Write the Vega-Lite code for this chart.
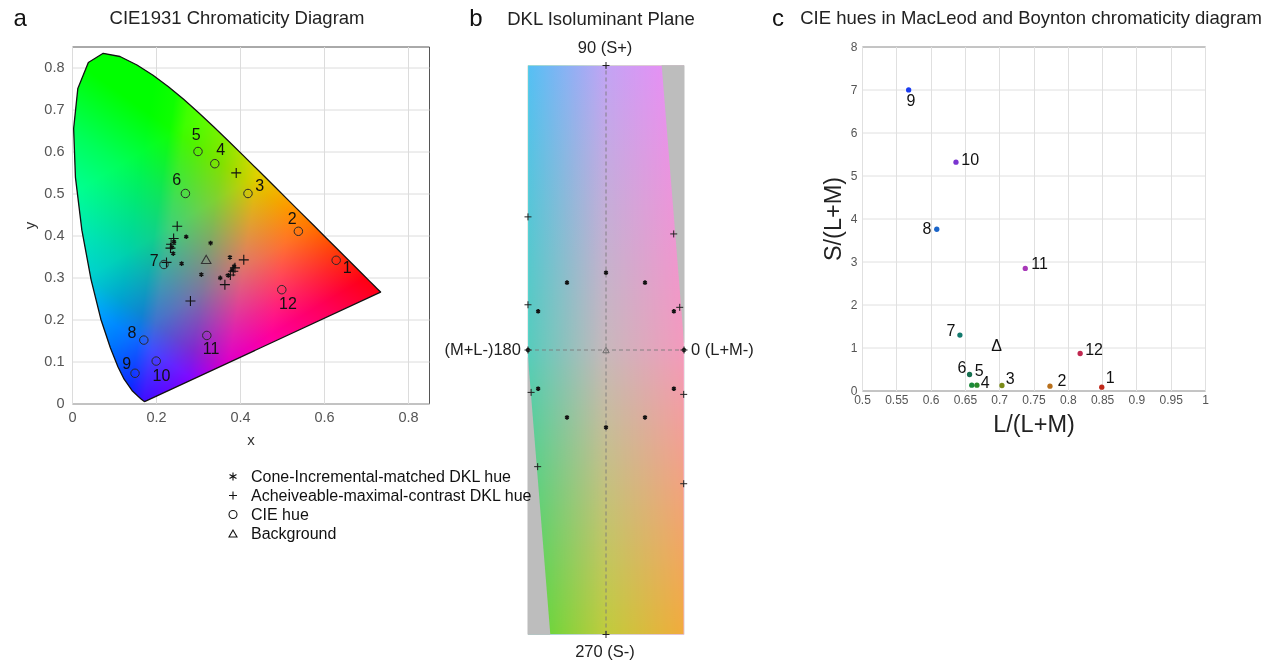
{
"$schema": "https://vega.github.io/schema/vega-lite/v6.json",
"padding": {"left": 13, "top": 6.5, "right": 0, "bottom": 0},
"background": "white",
"config": {"font": "Liberation Sans", "view": {"stroke": "#555", "strokeWidth": 1}, "axis": {"labelFlush": false, "labelBound": false}},
"spacing": 20,
"bounds": "flush",
"datasets": {
"locus": [
{"o":0,"x":0.1741,"y":0.0050},{"o":1,"x":0.1733,"y":0.0048},{"o":2,"x":0.1714,"y":0.0051},{"o":3,"x":0.1644,"y":0.0109},{"o":4,"x":0.1566,"y":0.0177},{"o":5,"x":0.1440,"y":0.0297},{"o":6,"x":0.1241,"y":0.0578},{"o":7,"x":0.1096,"y":0.0868},{"o":8,"x":0.0913,"y":0.1327},{"o":9,"x":0.0687,"y":0.2007},{"o":10,"x":0.0454,"y":0.2950},{"o":11,"x":0.0235,"y":0.4127},{"o":12,"x":0.0082,"y":0.5384},{"o":13,"x":0.0039,"y":0.6548},{"o":14,"x":0.0139,"y":0.7502},{"o":15,"x":0.0389,"y":0.8120},{"o":16,"x":0.0743,"y":0.8338},{"o":17,"x":0.1142,"y":0.8262},{"o":18,"x":0.1547,"y":0.8059},{"o":19,"x":0.1929,"y":0.7816},{"o":20,"x":0.2296,"y":0.7543},{"o":21,"x":0.2658,"y":0.7243},{"o":22,"x":0.3016,"y":0.6923},{"o":23,"x":0.3373,"y":0.6589},{"o":24,"x":0.3731,"y":0.6245},{"o":25,"x":0.4087,"y":0.5896},{"o":26,"x":0.4441,"y":0.5547},{"o":27,"x":0.4788,"y":0.5202},{"o":28,"x":0.5125,"y":0.4866},{"o":29,"x":0.5448,"y":0.4544},{"o":30,"x":0.5752,"y":0.4242},{"o":31,"x":0.6029,"y":0.3965},{"o":32,"x":0.6270,"y":0.3725},{"o":33,"x":0.6658,"y":0.3340},{"o":34,"x":0.6915,"y":0.3083},{"o":35,"x":0.7079,"y":0.2920},{"o":36,"x":0.7190,"y":0.2809},{"o":37,"x":0.7260,"y":0.2740},{"o":38,"x":0.7347,"y":0.2653},{"o":39,"x":0.1741,"y":0.0050}
],
"aMarkers": [
{"kind":"Cone-Incremental-matched DKL hue","x":0.272,"y":0.397},{"kind":"Cone-Incremental-matched DKL hue","x":0.330,"y":0.382},{"kind":"Cone-Incremental-matched DKL hue","x":0.243,"y":0.385},{"kind":"Cone-Incremental-matched DKL hue","x":0.241,"y":0.357},{"kind":"Cone-Incremental-matched DKL hue","x":0.261,"y":0.333},{"kind":"Cone-Incremental-matched DKL hue","x":0.308,"y":0.307},{"kind":"Cone-Incremental-matched DKL hue","x":0.376,"y":0.348},{"kind":"Cone-Incremental-matched DKL hue","x":0.353,"y":0.299},{"kind":"Cone-Incremental-matched DKL hue","x":0.381,"y":0.318},{"kind":"Cone-Incremental-matched DKL hue","x":0.372,"y":0.305},{"kind":"Cone-Incremental-matched DKL hue","x":0.238,"y":0.372},{"kind":"Cone-Incremental-matched DKL hue","x":0.386,"y":0.327},
{"kind":"Acheiveable-maximal-contrast DKL hue","x":0.391,"y":0.549},{"kind":"Acheiveable-maximal-contrast DKL hue","x":0.2505,"y":0.422},{"kind":"Acheiveable-maximal-contrast DKL hue","x":0.242,"y":0.393},{"kind":"Acheiveable-maximal-contrast DKL hue","x":0.236,"y":0.379},{"kind":"Acheiveable-maximal-contrast DKL hue","x":0.2345,"y":0.370},{"kind":"Acheiveable-maximal-contrast DKL hue","x":0.225,"y":0.336},{"kind":"Acheiveable-maximal-contrast DKL hue","x":0.409,"y":0.342},{"kind":"Acheiveable-maximal-contrast DKL hue","x":0.388,"y":0.323},{"kind":"Acheiveable-maximal-contrast DKL hue","x":0.384,"y":0.315},{"kind":"Acheiveable-maximal-contrast DKL hue","x":0.377,"y":0.306},{"kind":"Acheiveable-maximal-contrast DKL hue","x":0.364,"y":0.283},{"kind":"Acheiveable-maximal-contrast DKL hue","x":0.282,"y":0.244},
{"kind":"CIE hue","x":0.629,"y":0.341},{"kind":"CIE hue","x":0.539,"y":0.410},{"kind":"CIE hue","x":0.419,"y":0.500},{"kind":"CIE hue","x":0.340,"y":0.571},{"kind":"CIE hue","x":0.300,"y":0.600},{"kind":"CIE hue","x":0.270,"y":0.500},{"kind":"CIE hue","x":0.219,"y":0.331},{"kind":"CIE hue","x":0.171,"y":0.151},{"kind":"CIE hue","x":0.150,"y":0.072},{"kind":"CIE hue","x":0.2005,"y":0.101},{"kind":"CIE hue","x":0.321,"y":0.162},{"kind":"CIE hue","x":0.4995,"y":0.271},
{"kind":"Background","x":0.3195,"y":0.343}
],
"aLabels": [
{"t":"1","x":0.655,"y":0.323},{"t":"2","x":0.524,"y":0.44},{"t":"3","x":0.447,"y":0.519},{"t":"4","x":0.354,"y":0.603},{"t":"5","x":0.296,"y":0.639},{"t":"6","x":0.249,"y":0.531},{"t":"7","x":0.196,"y":0.339},{"t":"8","x":0.143,"y":0.168},{"t":"9","x":0.130,"y":0.093},{"t":"10","x":0.213,"y":0.065},{"t":"11","x":0.331,"y":0.129},{"t":"12","x":0.514,"y":0.238}
],
"bPoints": [
{"k":"dot","x":1,"y":0},{"k":"dot","x":0.87,"y":0.136},{"k":"dot","x":0.5,"y":0.237},{"k":"dot","x":0,"y":0.272},{"k":"dot","x":-0.5,"y":0.237},{"k":"dot","x":-0.87,"y":0.136},{"k":"dot","x":-1,"y":0},{"k":"dot","x":-0.87,"y":-0.136},{"k":"dot","x":-0.5,"y":-0.237},{"k":"dot","x":0,"y":-0.272},{"k":"dot","x":0.5,"y":-0.237},{"k":"dot","x":0.87,"y":-0.136},
{"k":"plus","x":0,"y":1},{"k":"plus","x":0,"y":-1},{"k":"plus","x":1,"y":0},{"k":"plus","x":-1,"y":0},{"k":"plus","x":-1,"y":0.468},{"k":"plus","x":0.868,"y":0.408},{"k":"plus","x":-1,"y":0.159},{"k":"plus","x":0.945,"y":0.15},{"k":"plus","x":-0.96,"y":-0.149},{"k":"plus","x":0.996,"y":-0.156},{"k":"plus","x":-0.876,"y":-0.41},{"k":"plus","x":0.996,"y":-0.47},
{"k":"bg","x":0,"y":0}
],
"bGray": [
{"t":"right","o":0,"x":0.714,"y":1},{"t":"right","o":1,"x":1,"y":1},{"t":"right","o":2,"x":1,"y":0.026},
{"t":"left","o":0,"x":-1,"y":-0.026},{"t":"left","o":1,"x":-1,"y":-1},{"t":"left","o":2,"x":-0.714,"y":-1}
],
"bTextC": [{"t":"90 (S+)","x":-0.013,"y":1.0598},{"t":"270 (S-)","x":-0.013,"y":-1.0598}],
"bTextL": [{"t":"(M+L-)180","x":-1.09,"y":0}],
"bTextR": [{"t":"0 (L+M-)","x":1.09,"y":0}],
"cPoints": [
{"hue":"1","x":0.8495,"y":0.078},{"hue":"2","x":0.774,"y":0.10},{"hue":"3","x":0.704,"y":0.116},{"hue":"4","x":0.6675,"y":0.124},{"hue":"5","x":0.66,"y":0.124},{"hue":"6","x":0.6568,"y":0.372},{"hue":"7","x":0.6427,"y":1.29},{"hue":"8","x":0.609,"y":3.75},{"hue":"9","x":0.568,"y":6.99},{"hue":"10","x":0.637,"y":5.31},{"hue":"11","x":0.738,"y":2.84},{"hue":"12","x":0.818,"y":0.86}
],
"cLabels": [
{"t":"1","x":0.8617,"y":0.295},{"t":"2","x":0.7913,"y":0.217},{"t":"3","x":0.716,"y":0.256},{"t":"4","x":0.6796,"y":0.178},{"t":"5","x":0.6709,"y":0.45},{"t":"6","x":0.6456,"y":0.512},{"t":"7","x":0.6296,"y":1.381},{"t":"8","x":0.5947,"y":3.763},{"t":"9","x":0.5714,"y":6.734},{"t":"10","x":0.6578,"y":5.361},{"t":"11","x":0.7587,"y":2.948},{"t":"12","x":0.8383,"y":0.939},{"t":"Δ","x":0.6961,"y":1.032}
]
},
"hconcat": [
{
"width": 357, "height": 357,
"layer": [
{
"encoding": {
"x": {"field": "x", "type": "quantitative", "scale": {"domain": [0, 0.85], "nice": false}, "axis": {"values": [0, 0.2, 0.4, 0.6, 0.8], "format": "~g", "title": "x", "grid": true, "gridColor": "#dcdcdc", "domain": false, "ticks": false, "labelOverlap": false, "labelFontSize": 14.5, "labelColor": "#555", "labelPadding": 6.5, "titleFontSize": 15, "titleFontWeight": "normal", "titleColor": "#333", "titlePadding": 9}},
"y": {"field": "y", "type": "quantitative", "scale": {"domain": [0, 0.85], "nice": false}, "axis": {"values": [0, 0.1, 0.2, 0.3, 0.4, 0.5, 0.6, 0.7, 0.8], "format": "~g", "title": "y", "grid": true, "gridColor": "#dcdcdc", "domain": false, "ticks": false, "labelOverlap": false, "labelFontSize": 14.5, "labelColor": "#555", "labelPadding": 8, "titleFontSize": 15, "titleFontWeight": "normal", "titleColor": "#333", "titlePadding": 6}}
},
"layer": [
{"data": {"name": "locus"}, "mark": {"type": "line", "filled": true, "strokeWidth": 0, "stroke": "transparent", "fill": {"gradient": "linear", "x1": 0.26753, "y1": 0.04552, "x2": 0.75958, "y2": 0.12925, "stops": [{"offset": 0, "color": "rgb(0,0,0)"}, {"offset": 0.1486, "color": "rgb(15,0,0)"}, {"offset": 0.2432, "color": "rgb(64,0,0)"}, {"offset": 0.3243, "color": "rgb(82,0,0)"}, {"offset": 0.5135, "color": "rgb(128,0,0)"}, {"offset": 0.7568, "color": "rgb(224,0,0)"}, {"offset": 1, "color": "rgb(255,0,0)"}]}}, "encoding": {"order": {"field": "o", "type": "quantitative"}}},
{"data": {"name": "locus"}, "mark": {"type": "line", "filled": true, "blend": "screen", "strokeWidth": 0, "stroke": "transparent", "fill": {"gradient": "linear", "x1": 0.4744, "y1": 0.8968, "x2": 0.1653, "y2": 0.3125, "stops": [{"offset": 0, "color": "rgb(0,0,0)"}, {"offset": 0.113, "color": "rgb(0,38,0)"}, {"offset": 0.318, "color": "rgb(0,115,0)"}, {"offset": 0.645, "color": "rgb(0,209,0)"}, {"offset": 1, "color": "rgb(0,255,0)"}]}}, "encoding": {"order": {"field": "o", "type": "quantitative"}}},
{"data": {"name": "locus"}, "mark": {"type": "line", "filled": true, "blend": "screen", "strokeWidth": 0, "stroke": "transparent", "fill": {"gradient": "linear", "x1": -0.31081, "y1": 0.50367, "x2": -0.00891, "y2": 0.01444, "stops": [{"offset": 0, "color": "rgb(0,0,255)"}, {"offset": 0.125, "color": "rgb(0,0,209)"}, {"offset": 0.3036, "color": "rgb(0,0,179)"}, {"offset": 0.5179, "color": "rgb(0,0,133)"}, {"offset": 0.6964, "color": "rgb(0,0,89)"}, {"offset": 0.8929, "color": "rgb(0,0,31)"}, {"offset": 1, "color": "rgb(0,0,0)"}]}}, "encoding": {"order": {"field": "o", "type": "quantitative"}}},
{"data": {"name": "locus"}, "mark": {"type": "line", "stroke": "#111", "strokeWidth": 1.3, "strokeJoin": "round"}, "encoding": {"order": {"field": "o", "type": "quantitative"}}},
{"data": {"name": "aMarkers"}, "transform": [{"filter": "datum.kind == 'Cone-Incremental-matched DKL hue'"}], "mark": {"type": "point", "filled": false, "color": "#111", "size": 22, "strokeWidth": 1.4, "opacity": 1},
 "encoding": {"shape": {"field": "kind", "type": "nominal", "scale": {"domain": ["Cone-Incremental-matched DKL hue", "Acheiveable-maximal-contrast DKL hue", "CIE hue", "Background"], "range": ["M0,-1L0,1M-0.866,-0.5L0.866,0.5M-0.866,0.5L0.866,-0.5", "M-1,0L1,0M0,-1L0,1", "circle", "triangle-up"]}, "legend": {"orient": "none", "legendX": 153, "legendY": 422, "title": null, "padding": 0, "labelFontSize": 16, "labelColor": "#111", "labelLimit": 400, "labelOffset": 10, "rowPadding": 3, "symbolSize": 64, "symbolStrokeColor": "#111", "symbolStrokeWidth": 1.1, "symbolFillColor": "transparent"}}}},
{"data": {"name": "aMarkers"}, "transform": [{"filter": "datum.kind == 'Acheiveable-maximal-contrast DKL hue'"}], "mark": {"type": "point", "filled": false, "color": "#111", "size": 100, "strokeWidth": 1.1, "opacity": 1},
 "encoding": {"shape": {"field": "kind", "type": "nominal", "scale": {"domain": ["Cone-Incremental-matched DKL hue", "Acheiveable-maximal-contrast DKL hue", "CIE hue", "Background"], "range": ["M0,-1L0,1M-0.866,-0.5L0.866,0.5M-0.866,0.5L0.866,-0.5", "M-1,0L1,0M0,-1L0,1", "circle", "triangle-up"]}, "legend": {"orient": "none", "legendX": 153, "legendY": 422, "title": null, "padding": 0, "labelFontSize": 16, "labelColor": "#111", "labelLimit": 400, "labelOffset": 10, "rowPadding": 3, "symbolSize": 64, "symbolStrokeColor": "#111", "symbolStrokeWidth": 1.1, "symbolFillColor": "transparent"}}}},
{"data": {"name": "aMarkers"}, "transform": [{"filter": "datum.kind == 'CIE hue'"}], "mark": {"type": "point", "filled": false, "color": "#2a2a2a", "size": 72, "strokeWidth": 1, "opacity": 1},
 "encoding": {"shape": {"field": "kind", "type": "nominal", "scale": {"domain": ["Cone-Incremental-matched DKL hue", "Acheiveable-maximal-contrast DKL hue", "CIE hue", "Background"], "range": ["M0,-1L0,1M-0.866,-0.5L0.866,0.5M-0.866,0.5L0.866,-0.5", "M-1,0L1,0M0,-1L0,1", "circle", "triangle-up"]}, "legend": {"orient": "none", "legendX": 153, "legendY": 422, "title": null, "padding": 0, "labelFontSize": 16, "labelColor": "#111", "labelLimit": 400, "labelOffset": 10, "rowPadding": 3, "symbolSize": 64, "symbolStrokeColor": "#111", "symbolStrokeWidth": 1.1, "symbolFillColor": "transparent"}}}},
{"data": {"name": "aMarkers"}, "transform": [{"filter": "datum.kind == 'Background'"}], "mark": {"type": "point", "filled": false, "color": "#333", "size": 90, "strokeWidth": 1.1, "opacity": 1},
 "encoding": {"shape": {"field": "kind", "type": "nominal", "scale": {"domain": ["Cone-Incremental-matched DKL hue", "Acheiveable-maximal-contrast DKL hue", "CIE hue", "Background"], "range": ["M0,-1L0,1M-0.866,-0.5L0.866,0.5M-0.866,0.5L0.866,-0.5", "M-1,0L1,0M0,-1L0,1", "circle", "triangle-up"]}, "legend": {"orient": "none", "legendX": 153, "legendY": 422, "title": null, "padding": 0, "labelFontSize": 16, "labelColor": "#111", "labelLimit": 400, "labelOffset": 10, "rowPadding": 3, "symbolSize": 64, "symbolStrokeColor": "#111", "symbolStrokeWidth": 1.1, "symbolFillColor": "transparent"}}}},
{"data": {"name": "aLabels"}, "mark": {"type": "text", "fontSize": 16, "color": "#111", "align": "center", "baseline": "middle"}, "encoding": {"text": {"field": "t"}}}
]
},
{"data": {"values": [{"t": "a"}]}, "mark": {"type": "text", "fontSize": 24, "color": "#111", "align": "center", "baseline": "alphabetic"}, "encoding": {"text": {"field": "t"},
 "x": {"datum": -0.1233, "type": "quantitative", "axis": {"values": [0, 0.2, 0.4, 0.6, 0.8], "format": "~g", "title": "x", "grid": true, "gridColor": "#dcdcdc", "domain": false, "ticks": false, "labelOverlap": false, "labelFontSize": 14.5, "labelColor": "#555", "labelPadding": 6.5, "titleFontSize": 15, "titleFontWeight": "normal", "titleColor": "#333", "titlePadding": 9}},
 "y": {"datum": 0.8988, "type": "quantitative", "axis": {"values": [0, 0.1, 0.2, 0.3, 0.4, 0.5, 0.6, 0.7, 0.8], "format": "~g", "title": "y", "grid": true, "gridColor": "#dcdcdc", "domain": false, "ticks": false, "labelOverlap": false, "labelFontSize": 14.5, "labelColor": "#555", "labelPadding": 8, "titleFontSize": 15, "titleFontWeight": "normal", "titleColor": "#333", "titlePadding": 6}}}},
{"data": {"values": [{"t": "CIE1931 Chromaticity Diagram"}]}, "mark": {"type": "text", "fontSize": 18.5, "color": "#222", "align": "center", "baseline": "middle"}, "encoding": {"text": {"field": "t"},
 "x": {"datum": 0.3929, "type": "quantitative", "axis": {"values": [0, 0.2, 0.4, 0.6, 0.8], "format": "~g", "title": "x", "grid": true, "gridColor": "#dcdcdc", "domain": false, "ticks": false, "labelOverlap": false, "labelFontSize": 14.5, "labelColor": "#555", "labelPadding": 6.5, "titleFontSize": 15, "titleFontWeight": "normal", "titleColor": "#333", "titlePadding": 9}},
 "y": {"datum": 0.9167, "type": "quantitative", "axis": {"values": [0, 0.1, 0.2, 0.3, 0.4, 0.5, 0.6, 0.7, 0.8], "format": "~g", "title": "y", "grid": true, "gridColor": "#dcdcdc", "domain": false, "ticks": false, "labelOverlap": false, "labelFontSize": 14.5, "labelColor": "#555", "labelPadding": 8, "titleFontSize": 15, "titleFontWeight": "normal", "titleColor": "#333", "titlePadding": 6}}}}
]
},
{
"width": 393, "height": 610,
"view": {"stroke": null},
"layer": [
{"data": {"values": [{"plane": "DKL"}]}, "mark": {"type": "rect", "stroke": "#d4d4d4", "strokeWidth": 1, "fill": {"gradient": "linear", "x1": 0, "y1": 0, "x2": 0, "y2": 1, "stops": [{"offset": 0, "color": "#c2a4f4"}, {"offset": 0.5, "color": "#c8b8bc"}, {"offset": 1, "color": "#c0cc3c"}]}}, "encoding": {"x": {"datum": -1, "type": "quantitative", "scale": {"domain": [-2.0128, 3.0256], "nice": false, "zero": false}, "axis": null}, "x2": {"datum": 1}, "y": {"datum": -1, "type": "quantitative", "scale": {"domain": [-1.0773, 1.0668], "nice": false, "zero": false}, "axis": null}, "y2": {"datum": 1}}},
{"data": {"values": [{"plane": "DKL"}]}, "mark": {"type": "rect", "blend": "multiply", "fill": {"gradient": "linear", "x1": 0, "y1": 0, "x2": 1, "y2": 0, "stops": [{"offset": 0, "color": "rgb(110,245,255)"}, {"offset": 0.5, "color": "rgb(255,255,255)"}, {"offset": 1, "color": "rgb(255,214,255)"}]}}, "encoding": {"x": {"datum": -1, "type": "quantitative", "axis": null}, "x2": {"datum": 1}, "y": {"datum": -1, "type": "quantitative", "axis": null}, "y2": {"datum": 1}}},
{"data": {"values": [{"plane": "DKL"}]}, "mark": {"type": "rect", "blend": "screen", "fill": {"gradient": "linear", "x1": 0, "y1": 0, "x2": 1, "y2": 0, "stops": [{"offset": 0, "color": "rgb(0,90,0)"}, {"offset": 0.5, "color": "rgb(0,0,0)"}, {"offset": 1, "color": "rgb(200,0,0)"}]}}, "encoding": {"x": {"datum": -1, "type": "quantitative", "axis": null}, "x2": {"datum": 1}, "y": {"datum": -1, "type": "quantitative", "axis": null}, "y2": {"datum": 1}}},
{"encoding": {"x": {"field": "x", "type": "quantitative", "scale": {"domain": [-2.0128, 3.0256], "nice": false, "zero": false}, "axis": null}, "y": {"field": "y", "type": "quantitative", "scale": {"domain": [-1.0773, 1.0668], "nice": false, "zero": false}, "axis": null}},
 "layer": [
{"data": {"name": "bGray"}, "mark": {"type": "line", "filled": true, "fill": "#bdbdbd", "stroke": "#bdbdbd", "strokeWidth": 0.5}, "encoding": {"detail": {"field": "t"}, "order": {"field": "o", "type": "quantitative"}}}
 ]},
{"data": {"values": [{"axis": "S"}]}, "mark": {"type": "rule", "color": "#7a7a7a", "strokeDash": [4, 3], "strokeWidth": 0.9}, "encoding": {"x": {"datum": 0, "type": "quantitative", "axis": null}, "y": {"datum": -1, "type": "quantitative", "axis": null}, "y2": {"datum": 1}}},
{"data": {"values": [{"axis": "LM"}]}, "mark": {"type": "rule", "color": "#7a7a7a", "strokeDash": [4, 3], "strokeWidth": 0.9}, "encoding": {"y": {"datum": 0, "type": "quantitative", "axis": null}, "x": {"datum": -1, "type": "quantitative", "axis": null}, "x2": {"datum": 1}}},
{"encoding": {"x": {"field": "x", "type": "quantitative", "axis": null}, "y": {"field": "y", "type": "quantitative", "axis": null}},
 "layer": [
{"data": {"name": "bPoints"}, "transform": [{"filter": "datum.k == 'dot'"}], "mark": {"type": "point", "filled": false, "color": "#111", "size": 20, "strokeWidth": 1.7, "opacity": 1, "shape": "M0,-1L0,1M-0.866,-0.5L0.866,0.5M-0.866,0.5L0.866,-0.5"}},
{"data": {"name": "bPoints"}, "transform": [{"filter": "datum.k == 'plus'"}], "mark": {"type": "point", "filled": false, "color": "#222", "size": 49, "strokeWidth": 1, "opacity": 1, "shape": "M-1,0L1,0M0,-1L0,1"}},
{"data": {"name": "bPoints"}, "transform": [{"filter": "datum.k == 'bg'"}], "mark": {"type": "point", "filled": false, "color": "#666", "size": 40, "strokeWidth": 0.9, "opacity": 1, "shape": "triangle-up"}},
{"data": {"name": "bTextC"}, "mark": {"type": "text", "fontSize": 16.5, "color": "#222", "align": "center", "baseline": "middle"}, "encoding": {"text": {"field": "t"}}},
{"data": {"name": "bTextL"}, "mark": {"type": "text", "fontSize": 16.5, "color": "#222", "align": "right", "baseline": "middle"}, "encoding": {"text": {"field": "t"}}},
{"data": {"name": "bTextR"}, "mark": {"type": "text", "fontSize": 16.5, "color": "#222", "align": "left", "baseline": "middle"}, "encoding": {"text": {"field": "t"}}}
 ]},
{"data": {"values": [{"t": "b"}]}, "mark": {"type": "text", "fontSize": 24, "color": "#111", "align": "center", "baseline": "alphabetic"}, "encoding": {"text": {"field": "t"}, "x": {"datum": -1.6667, "type": "quantitative", "axis": null}, "y": {"datum": 1.1388, "type": "quantitative", "axis": null}}},
{"data": {"values": [{"t": "DKL Isoluminant Plane"}]}, "mark": {"type": "text", "fontSize": 18.5, "color": "#222", "align": "center", "baseline": "middle"}, "encoding": {"text": {"field": "t"}, "x": {"datum": -0.0641, "type": "quantitative", "axis": null}, "y": {"datum": 1.1652, "type": "quantitative", "axis": null}}}
]
},
{
"width": 343, "height": 344,
"layer": [
{
"encoding": {
"x": {"field": "x", "type": "quantitative", "scale": {"domain": [0.5, 1], "nice": false, "zero": false}, "axis": {"values": [0.5, 0.55, 0.6, 0.65, 0.7, 0.75, 0.8, 0.85, 0.9, 0.95, 1], "format": "~g", "title": "L/(L+M)", "grid": true, "gridColor": "#e0e0e0", "domain": false, "ticks": false, "labelOverlap": false, "labelFontSize": 12, "labelColor": "#555", "labelPadding": 4, "titleFontSize": 23.5, "titleFontWeight": "normal", "titleColor": "#222", "titlePadding": 7}},
"y": {"field": "y", "type": "quantitative", "scale": {"domain": [0, 8], "nice": false}, "axis": {"values": [0, 1, 2, 3, 4, 5, 6, 7, 8], "format": "~g", "title": "S/(L+M)", "grid": true, "gridColor": "#e0e0e0", "domain": false, "ticks": false, "labelOverlap": false, "labelFontSize": 12, "labelColor": "#555", "labelPadding": 5, "titleFontSize": 23.5, "titleFontWeight": "normal", "titleColor": "#222", "titlePadding": 5}}
},
"layer": [
{"data": {"name": "cPoints"}, "mark": {"type": "circle", "size": 28, "opacity": 1}, "encoding": {"color": {"field": "hue", "type": "nominal", "legend": null, "scale": {"domain": ["1","2","3","4","5","6","7","8","9","10","11","12"], "range": ["#c0281a","#b8701c","#7a8a18","#2a8a2a","#1a8a3a","#167050","#137a6e","#1a64c8","#1a3cf0","#7a34d0","#a838b8","#c02850"]}}}},
{"data": {"name": "cLabels"}, "mark": {"type": "text", "fontSize": 16, "color": "#111", "align": "center", "baseline": "middle"}, "encoding": {"text": {"field": "t"}}}
]
},
{"data": {"values": [{"t": "c"}]}, "mark": {"type": "text", "fontSize": 24, "color": "#111", "align": "center", "baseline": "alphabetic"}, "encoding": {"text": {"field": "t"},
 "x": {"datum": 0.3776, "type": "quantitative", "axis": {"values": [0.5, 0.55, 0.6, 0.65, 0.7, 0.75, 0.8, 0.85, 0.9, 0.95, 1], "format": "~g", "title": "L/(L+M)", "grid": true, "gridColor": "#e0e0e0", "domain": false, "ticks": false, "labelOverlap": false, "labelFontSize": 12, "labelColor": "#555", "labelPadding": 4, "titleFontSize": 23.5, "titleFontWeight": "normal", "titleColor": "#222", "titlePadding": 7}},
 "y": {"datum": 8.4767, "type": "quantitative", "axis": {"values": [0, 1, 2, 3, 4, 5, 6, 7, 8], "format": "~g", "title": "S/(L+M)", "grid": true, "gridColor": "#e0e0e0", "domain": false, "ticks": false, "labelOverlap": false, "labelFontSize": 12, "labelColor": "#555", "labelPadding": 5, "titleFontSize": 23.5, "titleFontWeight": "normal", "titleColor": "#222", "titlePadding": 5}}}},
{"data": {"values": [{"t": "CIE hues in MacLeod and Boynton chromaticity diagram"}]}, "mark": {"type": "text", "fontSize": 18.5, "color": "#222", "align": "center", "baseline": "middle"}, "encoding": {"text": {"field": "t"},
 "x": {"datum": 0.7464, "type": "quantitative", "axis": {"values": [0.5, 0.55, 0.6, 0.65, 0.7, 0.75, 0.8, 0.85, 0.9, 0.95, 1], "format": "~g", "title": "L/(L+M)", "grid": true, "gridColor": "#e0e0e0", "domain": false, "ticks": false, "labelOverlap": false, "labelFontSize": 12, "labelColor": "#555", "labelPadding": 4, "titleFontSize": 23.5, "titleFontWeight": "normal", "titleColor": "#222", "titlePadding": 7}},
 "y": {"datum": 8.6512, "type": "quantitative", "axis": {"values": [0, 1, 2, 3, 4, 5, 6, 7, 8], "format": "~g", "title": "S/(L+M)", "grid": true, "gridColor": "#e0e0e0", "domain": false, "ticks": false, "labelOverlap": false, "labelFontSize": 12, "labelColor": "#555", "labelPadding": 5, "titleFontSize": 23.5, "titleFontWeight": "normal", "titleColor": "#222", "titlePadding": 5}}}}
]
}
]
}
